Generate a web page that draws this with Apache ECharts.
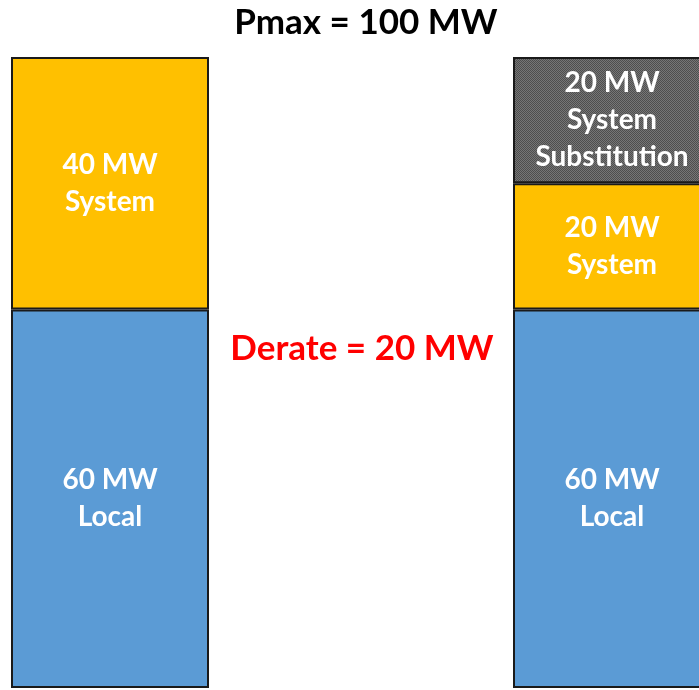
<!DOCTYPE html>
<html>
<head>
<meta charset="utf-8">
<script src="https://cdn.jsdelivr.net/npm/echarts@6/dist/echarts.min.js"></script>
<style>
html,body{margin:0;padding:0;background:#fff;}
#main{width:699px;height:690px;}
</style>
</head>
<body>
<div id="main"></div>
<script>
var categories = ['Before', 'Gap', 'After'];
var localVals = [60, null, 60];
var systemVals = [40, null, 20];
var substVals = [null, null, 20];
var localNames = ['Local', '', 'Local'];
var systemNames = ['System', '', 'System'];
var substNames = ['', '', 'System\nSubstitution'];
var titleText = 'Pmax = 100 MW';
var derateText = 'Derate = 20 MW';

var FONT = 'Lato';

// small checker tile for the grey hatched block
function makeTile(){
	var c = document.createElement('canvas');
	c.width = 2; c.height = 2;
	var ctx = c.getContext('2d');
	ctx.fillStyle = '#767676';
	ctx.fillRect(0, 0, 2, 2);
	ctx.fillStyle = '#4e4e4e';
	ctx.fillRect(0, 0, 1, 1);
	ctx.fillRect(1, 1, 1, 1);
	return c;
}

function segLabel(names){
	return {
		show : true,
		position : 'inside',
		color : '#fff',
		fontFamily : FONT,
		fontWeight : 'bold',
		fontSize : 28,
		lineHeight : 37,
		formatter : function(p){
			if(p.value == null) return '';
			return p.value + ' MW\n' + names[p.dataIndex];
		}
	};
}

function seg(name, vals, names, color){
	return {
		name : name,
		type : 'bar',
		stack : 'p',
		barWidth : 198,
		data : vals,
		label : segLabel(names),
		itemStyle : {
			color : color,
			borderColor : '#1a1a1a',
			borderWidth : 2
		},
		emphasis : { disabled : true }
	};
}

var myChart = echarts.init(document.getElementById('main'));
var option = {
	animation : false,
	title : {
		text : titleText,
		left : 361,
		top : 0,
		textAlign : 'center',
		textStyle : {
			fontFamily : FONT,
			fontWeight : 'bold',
			fontSize : 35,
			color : '#000'
		}
	},
	grid : {
		left : -15.5,
		right : -38.5,
		top : 57,
		bottom : 2,
		outerBoundsMode : 'none'
	},
	xAxis : {
		type : 'category',
		data : categories,
		show : false
	},
	yAxis : {
		type : 'value',
		min : 0,
		max : 100,
		show : false
	},
	graphic : [{
		type : 'text',
		x : 362,
		y : 349,
		style : {
			text : derateText,
			fill : '#ff0000',
			font : 'bold 35px ' + FONT,
			align : 'center',
			verticalAlign : 'middle'
		}
	}],
	series : [
		seg('Local', localVals, localNames, '#5b9bd5'),
		seg('System', systemVals, systemNames, '#ffc000'),
		seg('Substitution', substVals, substNames, { image : makeTile(), repeat : 'repeat' })
	]
};
myChart.setOption(option);
</script>
</body>
</html>
